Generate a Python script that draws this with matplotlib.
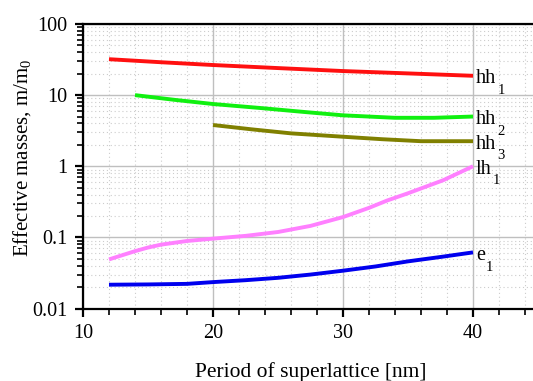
import numpy as np
import matplotlib
matplotlib.use("Agg")
import matplotlib.pyplot as plt
from matplotlib.ticker import LogLocator, MultipleLocator, FixedLocator, NullFormatter

matplotlib.rcParams.update({
    "font.family": "serif",
    "font.serif": ["Liberation Serif", "DejaVu Serif"],
    "mathtext.fontset": "custom",
    "mathtext.rm": "Liberation Serif",
    "mathtext.it": "Liberation Serif:italic",
    "font.size": 11,
})

# effective masses (m/m0)
hh1_x = [12, 16, 20, 25, 30, 35, 40]
hh1_y = [32, 29, 26.5, 24, 21.8, 20.2, 18.7]

hh2_x = [14, 17, 20, 23.6, 27, 30, 34, 37, 40]
hh2_y = [10, 8.6, 7.5, 6.6, 5.8, 5.2, 4.8, 4.8, 5.0]

hh3_x = [20, 23, 26, 30, 33, 36, 40]
hh3_y = [3.8, 3.3, 2.9, 2.6, 2.4, 2.25, 2.25]

lh1_x = [12, 13, 14, 15, 16, 18, 20, 22.5, 25, 27.5, 30, 32, 33.4, 35, 37.7, 40]
lh1_y = [0.049, 0.056, 0.064, 0.072, 0.079, 0.089, 0.096, 0.105, 0.119, 0.145,
         0.193, 0.26, 0.33, 0.417, 0.635, 1.0]

e1_x = [12, 15, 18, 20, 22.5, 25, 27.5, 30, 32.5, 35, 37.5, 40]
e1_y = [0.0216, 0.0218, 0.0222, 0.0235, 0.025, 0.027, 0.030, 0.034, 0.039, 0.046, 0.053, 0.0615]

CURVES = [
    (hh1_x, hh1_y, "#ff1010", "hh", "1"),
    (hh2_x, hh2_y, "#10f010", "hh", "2"),
    (hh3_x, hh3_y, "#808000", "hh", "3"),
    (lh1_x, lh1_y, "#ff80ff", "lh", "1"),
    (e1_x, e1_y, "#0000ee", "e", "1"),
]

fig = plt.figure(figsize=(5.33, 3.81), dpi=100)
ax = fig.add_axes([83 / 533, 1 - 308.5 / 381, 455 / 533, 284.5 / 381])

for xs, ys, col, name, sub in CURVES:
    ax.plot(xs, ys, color=col, lw=2.8, solid_capstyle="butt")
    t = ax.annotate(name, xy=(xs[-1], ys[-1]), xytext=(2, -5.5),
                    textcoords="offset points", fontsize=14.5, va="baseline", ha="left")
    ax.annotate(sub, xy=(1, 0), xycoords=t, xytext=(1, -4),
                textcoords="offset points", fontsize=10.5, va="baseline", ha="left")

ax.set_yscale("log")
ax.set_xlim(10, 45)
ax.set_ylim(0.01, 100)
ax.set_xticks([10, 20, 30, 40])
ax.xaxis.set_minor_locator(MultipleLocator(2))
ax.yaxis.set_major_locator(FixedLocator([0.01, 0.1, 1, 10, 100]))
ax.set_yticklabels(["0.01", "0.1", "1", "10", "100"])
ax.yaxis.set_minor_locator(LogLocator(base=10, subs=np.arange(2, 10)))
ax.yaxis.set_minor_formatter(NullFormatter())

ax.grid(True, which="major", color="0.75", lw=1.0)
ax.grid(True, which="minor", color="0.8", lw=0.8, ls=(0, (1, 2.5)))
ax.set_axisbelow(True)

ax.spines["right"].set_visible(False)
for s in ["left", "bottom", "top"]:
    ax.spines[s].set_linewidth(1.6)

ax.tick_params(which="major", direction="out", length=6, width=1.6, labelsize=14.5, pad=5)
ax.tick_params(which="minor", direction="out", length=4, width=1.2)

ax.set_xlabel("Period of superlattice [nm]", fontsize=15.5, labelpad=14)
ax.set_ylabel(r"Effective masses, m/m$_0$", fontsize=15)
ax.yaxis.set_label_coords(-0.11, 0.53)

fig.savefig("out.png", dpi=100)
